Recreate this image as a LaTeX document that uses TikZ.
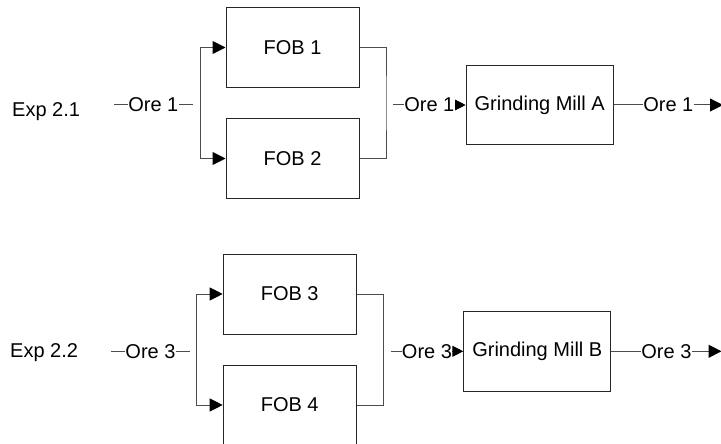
\documentclass[tikz,border=0pt]{standalone}
\usepackage{fontspec}
\setmainfont{Liberation Sans}
\usetikzlibrary{arrows.meta}
\begin{document}
\begin{tikzpicture}[x=1pt,y=-1pt,
  every node/.style={font=\fontsize{20}{24}\selectfont},
  unit/.style={draw=black!85, line width=1pt, minimum width=133pt, minimum height=80pt, inner sep=0pt},
  mill/.style={unit, minimum width=147pt, minimum height=79pt},
  flow/.style={draw=black!70, line width=1pt},
  bigtip/.style={-{Triangle[length=13pt,width=13pt,black]}},
  smalltip/.style={-{Triangle[length=11pt,width=11pt,black]}},
  tag/.style={fill=white, inner xsep=0.3pt, inner ysep=1pt},
  caption/.style={anchor=base west, inner sep=0pt},
]
\useasboundingbox (0,0) rectangle (721,444);

% ---- Experiment 2.1 ----
\node[caption] (expA) at (12,116.7) {Exp 2.1};
\node[unit] (fob1) at (292.5,47.5) {FOB 1};
\node[unit] (fob2) at (292.5,158.5) {FOB 2};
\node[mill] (millA) at (539.7,105) {Grinding Mill A};
\coordinate (inA) at (114,105);
\coordinate (inAe) at (192.7,105);
\coordinate (splitA) at (200,103);
\coordinate (joinA) at (386,103);
\coordinate (feedA) at (393,105);
\coordinate (outA) at (723,105);
\draw[flow] (inA) -- node[tag] (oreA1) {Ore 1} (inAe);
\draw[flow,bigtip] (splitA) |- (fob1.west);
\draw[flow,bigtip] (splitA) |- (fob2.west);
\draw[flow] (fob1.east) -| (joinA) |- (fob2.east);
\draw[flow,smalltip] (feedA) -- node[tag] (oreA2) {Ore 1} (millA.west);
\draw[flow,bigtip] (millA.east) -- node[tag] (oreA3) {Ore 1} (outA);

% ---- Experiment 2.2 ----
\node[caption] (expB) at (10,357.7) {Exp 2.2};
\node[unit] (fob3) at (289.7,294) {FOB 3};
\node[unit] (fob4) at (289.7,405) {FOB 4};
\node[mill, minimum height=80pt] (millB) at (537.3,351.3) {Grinding Mill B};
\coordinate (inB) at (111,351.3);
\coordinate (inBe) at (190,351.3);
\coordinate (splitB) at (196.7,349);
\coordinate (joinB) at (383.3,349);
\coordinate (feedB) at (390.7,351.3);
\coordinate (outB) at (721.5,351.3);
\draw[flow] (inB) -- node[tag] (oreB1) {Ore 3} (inBe);
\draw[flow,bigtip] (splitB) |- (fob3.west);
\draw[flow,bigtip] (splitB) |- (fob4.west);
\draw[flow] (fob3.east) -| (joinB) |- (fob4.east);
\draw[flow,smalltip] (feedB) -- node[tag] (oreB2) {Ore 3} (millB.west);
\draw[flow,bigtip] (millB.east) -- node[tag] (oreB3) {Ore 3} (outB);
\end{tikzpicture}
\end{document}
